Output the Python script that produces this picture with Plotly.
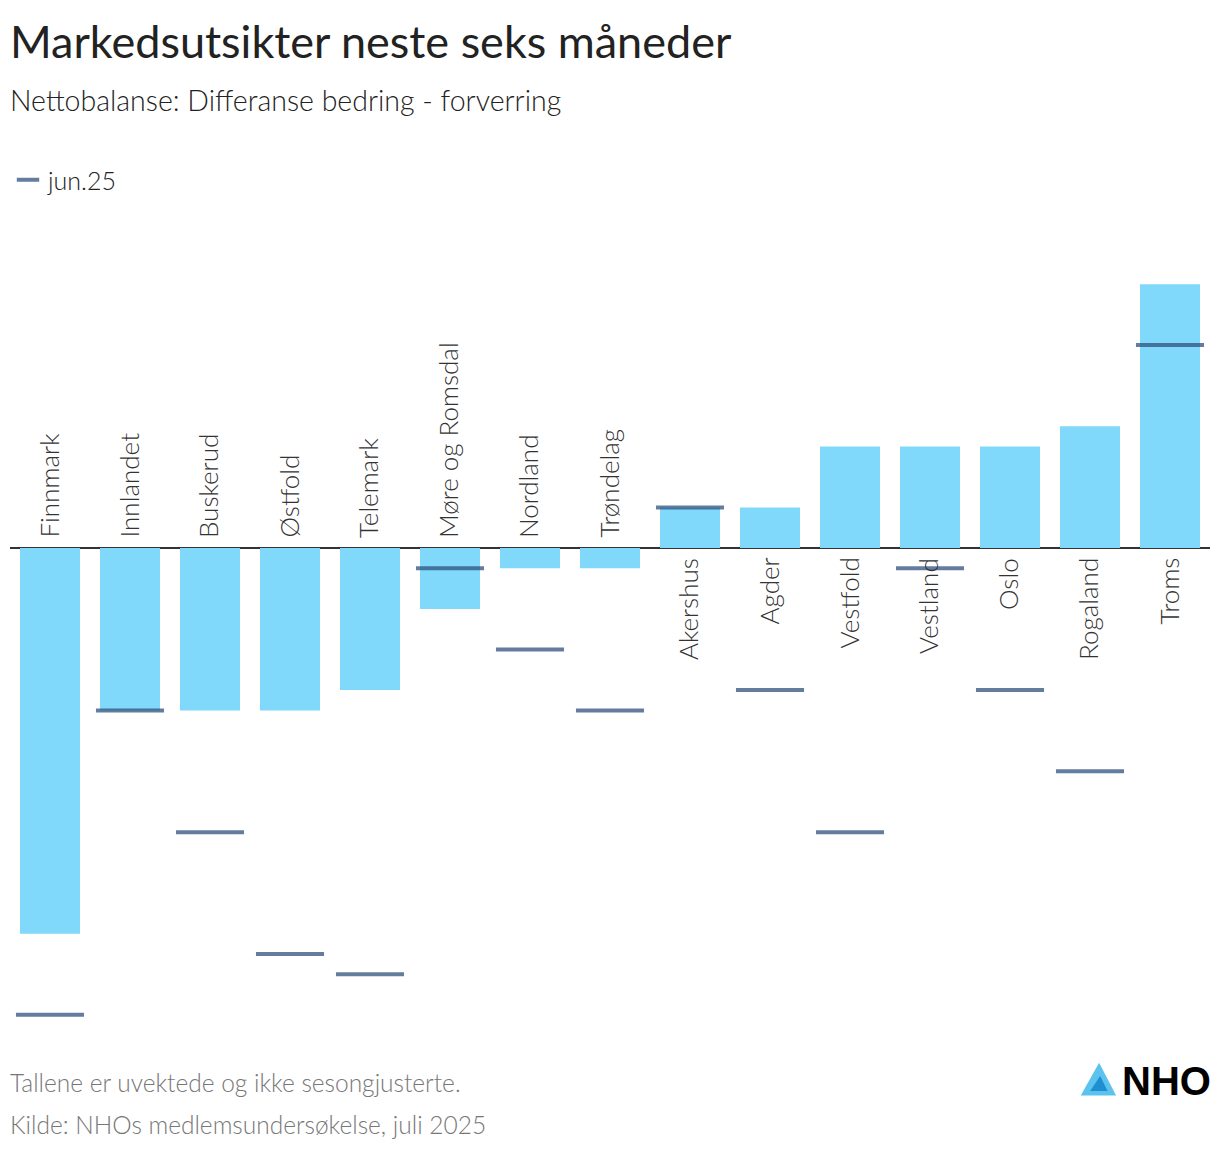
import plotly.graph_objects as go

categories = ["Finnmark", "Innlandet", "Buskerud", "Østfold", "Telemark", "Møre og Romsdal",
              "Nordland", "Trøndelag", "Akershus", "Agder", "Vestfold", "Vestland", "Oslo",
              "Rogaland", "Troms"]
current = [-19, -8, -8, -8, -7, -3, -1, -1, 2, 2, 5, 5, 5, 6, 13]
jun25 = [-23, -8, -14, -20, -21, -1, -5, -8, 2, -7, -14, -1, -7, -11, 10]

# page body has an 8px margin, so the figure is 16px smaller than the window
W, H = 1204, 1134
L, R, T, B = 2, 2, 212, 102
plot_h = H - T - B
plot_w = W - L - R
YMIN, YMAX = -24.24, 16.16
FONT = "Lato"

def py(p):
    """reference-screen y pixel -> paper coordinate"""
    return (1040 - p) / plot_h

def ppx(xp):
    """reference-screen x pixel -> paper coordinate"""
    return (xp - 10) / plot_w

fig = go.Figure()
fig.add_trace(go.Bar(
    x=categories, y=current, name="Nå", showlegend=False,
    marker=dict(color="#80d9fb", line=dict(width=0)), width=0.75,
    hoverinfo="x+y"))
fig.add_trace(go.Scatter(
    x=categories, y=jun25, name="jun.25", mode="markers",
    marker=dict(symbol="line-ew", size=48.6,
                line=dict(width=4, color="rgba(40,75,120,0.72)")),
))

annotations = []
for c, v in zip(categories, current):
    neg = v < 0
    annotations.append(dict(x=c, y=0, xref="x", yref="y", text=c, textangle=-90,
                            showarrow=False, yanchor="bottom" if neg else "top",
                            xanchor="center", yshift=8 if neg else -8, xshift=-2,
                            font=dict(family=FONT, size=26, color="#333333", weight=300)))

annotations += [
    dict(x=0, xref="paper", y=py(41), yref="paper", xanchor="left", yanchor="middle",
         xshift=-2, text="Markedsutsikter neste seks måneder", showarrow=False,
         font=dict(family=FONT, size=45, color="#222222")),
    dict(x=0, xref="paper", y=py(100), yref="paper", xanchor="left", yanchor="middle",
         xshift=-2, text="Nettobalanse: Differanse bedring - forverring", showarrow=False,
         font=dict(family=FONT, size=28.5, color="#222222", weight=300)),
    dict(x=0, xref="paper", y=py(1082), yref="paper", xanchor="left", yanchor="middle",
         xshift=-2, text="Tallene er uvektede og ikke sesongjusterte.", showarrow=False,
         font=dict(family=FONT, size=24.5, color="#777777", weight=300)),
    dict(x=0, xref="paper", y=py(1124), yref="paper", xanchor="left", yanchor="middle",
         xshift=-2, text="Kilde: NHOs medlemsundersøkelse, juli 2025", showarrow=False,
         font=dict(family=FONT, size=24.5, color="#777777", weight=300)),
    dict(x=1, xref="paper", y=py(1081), yref="paper", xanchor="right", yanchor="middle",
         xshift=3, text="<b>NHO</b>", showarrow=False,
         font=dict(family="Liberation Sans", size=40, color="#000000")),
]

# NHO logo mark (decorative)
outer = (f"M {ppx(1099)},{py(1068)} L {ppx(1112)},{py(1093)} L {ppx(1085)},{py(1093)} Z")
inner = (f"M {ppx(1100)},{py(1078)} L {ppx(1106)},{py(1090)} L {ppx(1092)},{py(1090)} Z")
shapes = [
    dict(type="path", xref="paper", yref="paper", path=outer,
         fillcolor="#5cc3ef", line=dict(color="#5cc3ef", width=5), layer="above"),
    dict(type="path", xref="paper", yref="paper", path=inner,
         fillcolor="#1f8fd1", line=dict(color="#1f8fd1", width=2), layer="above"),
]

fig.update_layout(
    width=W, height=H,
    margin=dict(l=L, r=R, t=T, b=B, autoexpand=False),
    paper_bgcolor="white", plot_bgcolor="white",
    bargap=0.25,
    font=dict(family=FONT, color="#333333"),
    xaxis=dict(showticklabels=False, showgrid=False, zeroline=False, showline=False,
               ticks="", range=[-0.5, len(categories) - 0.5], fixedrange=True),
    yaxis=dict(range=[YMIN, YMAX], showticklabels=False, showgrid=False, ticks="",
               zeroline=True, zerolinecolor="#333333", zerolinewidth=2, showline=False,
               fixedrange=True),
    legend=dict(xref="container", yref="container", x=-0.004, xanchor="left",
                y=1 - 172 / H, yanchor="middle", orientation="h",
                font=dict(family=FONT, size=25, color="#222222", weight=300),
                bgcolor="rgba(0,0,0,0)"),
    annotations=annotations,
    shapes=shapes,
    showlegend=True,
)

fig.write_html("out.html")
